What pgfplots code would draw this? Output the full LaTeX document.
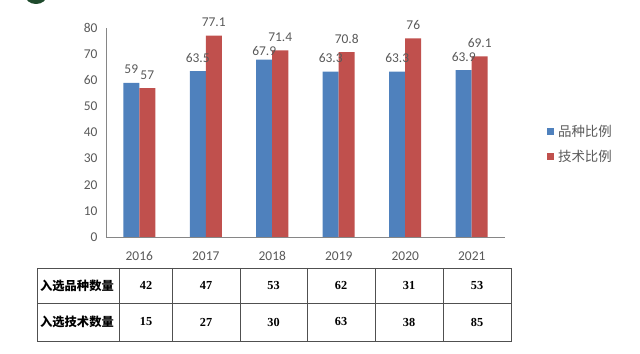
\documentclass[border=0pt]{standalone}
\usepackage{pgfplots}
\pgfplotsset{compat=1.18}
\usepackage{fontspec}
\setmainfont{Carlito}
\newfontfamily\cjk{Noto Sans CJK SC}
\newfontfamily\tabserif{Liberation Serif}
\definecolor{barblue}{HTML}{4F81BD}
\definecolor{barred}{HTML}{C0504D}
\definecolor{txtgray}{HTML}{595959}
\definecolor{axgray}{HTML}{868686}
\definecolor{tabline}{HTML}{505050}
\definecolor{blobgreen}{HTML}{1E4A2C}
\begin{document}
\begin{tikzpicture}
\path[use as bounding box] (0bp,0bp) rectangle (640bp,354bp);
\begin{scope}[x=1bp,y=1bp]
\clip (0,0) rectangle (640,354);
\fill[blobgreen] (36,359) ellipse [x radius=11, y radius=9];
\end{scope}
\begin{axis}[
  at={(106bp,117bp)}, anchor=south west,
  scale only axis, width=399bp, height=209bp,
  xmin=-0.5, xmax=5.5, ymin=0, ymax=80,
  ybar=0pt, bar width=16bp,
  axis x line*=bottom, axis y line*=left,
  axis line style={axgray, line width=1pt, -},
  major tick length=0pt,
  xtick={0,1,2,3,4,5},
  xticklabels={2016,2017,2018,2019,2020,2021},
  ytick={0,10,20,30,40,50,60,70,80},
  /pgf/number format/assume math mode=true,
  tick label style={font=\fontsize{13.5}{15}\selectfont, text=txtgray},
  xticklabel style={anchor=base, yshift=-24bp},
  yticklabel style={xshift=-5bp},
  nodes near coords,
  every node near coord/.append style={font=\fontsize{13.5}{16}\selectfont, text=txtgray, anchor=base, yshift=9bp},
  legend cell align=left,
  legend style={at={(1.105,0.545)}, anchor=north west, draw=none, fill=none,
    font=\cjk\fontsize{13.5}{15}\selectfont, text=txtgray, row sep=8bp, inner sep=0pt,
    nodes={inner xsep=4bp}},
  legend image code/.code={\fill[#1] (0bp,-3.5bp) rectangle (7bp,3.5bp);},
  clip=false,
]
\addplot[fill=barblue, draw=none, coordinate style/.condition={\coordindex==2}{yshift=-5bp}] coordinates {(0,59) (1,63.5) (2,67.9) (3,63.3) (4,63.3) (5,63.9)};
\addplot[fill=barred, draw=none] coordinates {(0,57) (1,77.1) (2,71.4) (3,70.8) (4,76) (5,69.1)};
\legend{品种比例,技术比例}
\end{axis}
\begin{scope}[x=1bp,y=1bp]
\draw[tabline, line width=0.9pt] (37,86) rectangle (511,13);
\draw[tabline, line width=0.9pt] (37,51) -- (511,51);
\foreach \x in {119,172,240,307,375,443} \draw[tabline, line width=0.9pt] (\x,86) -- (\x,13);
\node[font=\cjk\bfseries\fontsize{12.3}{14}\selectfont] at (77,68.5) {入选品种数量};
\node[font=\cjk\bfseries\fontsize{12.3}{14}\selectfont] at (77,32) {入选技术数量};
\foreach \x/\a/\b in {146/42/15, 206/47/27, 273.5/53/30, 341/62/63, 409/31/38, 477/53/85} {
  \node[font=\tabserif\bfseries\fontsize{12.3}{14}\selectfont] at (\x,68.5) {\a};
  \node[font=\tabserif\bfseries\fontsize{12.3}{14}\selectfont] at (\x,32) {\b};
}
\end{scope}
\end{tikzpicture}
\end{document}
